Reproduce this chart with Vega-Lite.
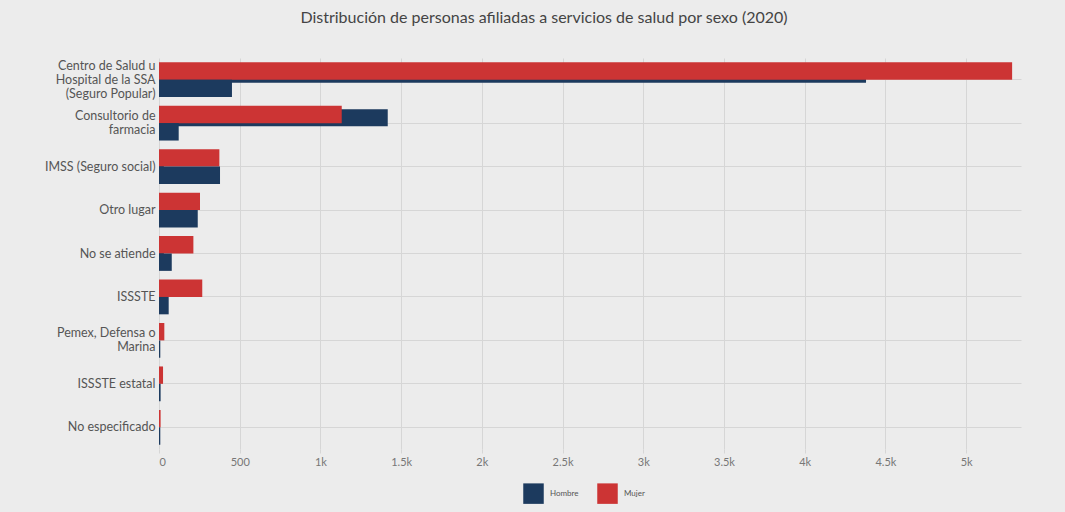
{
  "$schema": "https://vega.github.io/schema/vega-lite/v6.json",
  "autosize": "none",
  "width": 862,
  "height": 391,
  "padding": {"left": 159, "top": 58, "right": 44, "bottom": 63},
  "background": "#ececec",
  "title": {
    "text": "Distribución de personas afiliadas a servicios de salud por sexo (2020)",
    "font": "Lato",
    "fontSize": 16,
    "fontWeight": "normal",
    "color": "#444444",
    "anchor": "middle",
    "dx": -46,
    "offset": 32
  },
  "config": {
    "view": {"stroke": null},
    "font": "Lato"
  },
  "data": {
    "values": [
      {"categoria": "Centro de Salud u Hospital de la SSA (Seguro Popular)", "sexo": "Mujer", "registro": "principal", "valor": 5285},
      {"categoria": "Centro de Salud u Hospital de la SSA (Seguro Popular)", "sexo": "Hombre", "registro": "principal", "valor": 452},
      {"categoria": "Centro de Salud u Hospital de la SSA (Seguro Popular)", "sexo": "Hombre", "registro": "secundario", "valor": 4380},
      {"categoria": "Consultorio de farmacia", "sexo": "Mujer", "registro": "principal", "valor": 1132},
      {"categoria": "Consultorio de farmacia", "sexo": "Hombre", "registro": "principal", "valor": 122},
      {"categoria": "Consultorio de farmacia", "sexo": "Hombre", "registro": "secundario", "valor": 1417},
      {"categoria": "IMSS (Seguro social)", "sexo": "Mujer", "registro": "principal", "valor": 374},
      {"categoria": "IMSS (Seguro social)", "sexo": "Hombre", "registro": "principal", "valor": 378},
      {"categoria": "IMSS (Seguro social)", "sexo": "Hombre", "registro": "secundario", "valor": 30},
      {"categoria": "Otro lugar", "sexo": "Mujer", "registro": "principal", "valor": 254},
      {"categoria": "Otro lugar", "sexo": "Hombre", "registro": "principal", "valor": 240},
      {"categoria": "No se atiende", "sexo": "Mujer", "registro": "principal", "valor": 213},
      {"categoria": "No se atiende", "sexo": "Hombre", "registro": "principal", "valor": 79},
      {"categoria": "No se atiende", "sexo": "Hombre", "registro": "secundario", "valor": 30},
      {"categoria": "ISSSTE", "sexo": "Mujer", "registro": "principal", "valor": 268},
      {"categoria": "ISSSTE", "sexo": "Hombre", "registro": "principal", "valor": 60},
      {"categoria": "ISSSTE", "sexo": "Hombre", "registro": "secundario", "valor": 25},
      {"categoria": "Pemex, Defensa o Marina", "sexo": "Mujer", "registro": "principal", "valor": 33},
      {"categoria": "Pemex, Defensa o Marina", "sexo": "Hombre", "registro": "principal", "valor": 8},
      {"categoria": "ISSSTE estatal", "sexo": "Mujer", "registro": "principal", "valor": 25},
      {"categoria": "ISSSTE estatal", "sexo": "Hombre", "registro": "principal", "valor": 10},
      {"categoria": "No especificado", "sexo": "Mujer", "registro": "principal", "valor": 10},
      {"categoria": "No especificado", "sexo": "Hombre", "registro": "principal", "valor": 8}
    ]
  },
  "encoding": {
    "y": {
      "field": "categoria",
      "type": "nominal",
      "sort": ["Centro de Salud u Hospital de la SSA (Seguro Popular)", "Consultorio de farmacia", "IMSS (Seguro social)", "Otro lugar", "No se atiende", "ISSSTE", "Pemex, Defensa o Marina", "ISSSTE estatal", "No especificado"],
      "scale": {"paddingInner": 0, "paddingOuter": 0},
      "axis": {
        "title": null,
        "domain": false,
        "ticks": false,
        "grid": true,
        "bandPosition": 0.5,
        "gridColor": "#d6d6d6",
        "gridWidth": 1,
        "labelFont": "Lato",
        "labelFontSize": 12.5,
        "labelColor": "#555555",
        "labelPadding": 4,
        "labelLineHeight": 14,
        "labelLimit": 300,
        "labelOffset": {
          "condition": [
            {"test": "datum.value == 'Centro de Salud u Hospital de la SSA (Seguro Popular)'", "value": -14},
            {"test": "datum.value == 'Consultorio de farmacia' || datum.value == 'Pemex, Defensa o Marina'", "value": -7}
          ],
          "value": 0
        },
        "labelExpr": "datum.value == 'Centro de Salud u Hospital de la SSA (Seguro Popular)' ? ['Centro de Salud u', 'Hospital de la SSA', '(Seguro Popular)'] : datum.value == 'Consultorio de farmacia' ? ['Consultorio de', 'farmacia'] : datum.value == 'Pemex, Defensa o Marina' ? ['Pemex, Defensa o', 'Marina'] : datum.label"
      }
    },
    "x": {
      "field": "valor",
      "type": "quantitative",
      "scale": {"domain": [0, 5340], "nice": false},
      "axis": {
        "title": null,
        "domain": false,
        "ticks": true,
        "tickColor": "#d6d6d6",
        "tickSize": 4,
        "values": [0, 500, 1000, 1500, 2000, 2500, 3000, 3500, 4000, 4500, 5000],
        "labelExpr": "datum.value < 1000 ? format(datum.value, 'd') : format(datum.value / 1000, '~g') + 'k'",
        "gridColor": "#d6d6d6",
        "labelFont": "Lato",
        "labelFontSize": 11,
        "labelColor": "#777777",
        "labelPadding": 3
      }
    },
    "color": {
      "field": "sexo",
      "type": "nominal",
      "scale": {"domain": ["Hombre", "Mujer"], "range": ["#1c3a5e", "#cc3434"]},
      "legend": {
        "title": null,
        "orient": "none",
        "direction": "horizontal",
        "legendX": 364,
        "legendY": 425,
        "symbolType": "square",
        "symbolSize": 420,
        "symbolOpacity": 1,
        "symbolStrokeWidth": 0,
        "labelFontSize": 8,
        "labelColor": "#555555",
        "labelOffset": 6,
        "columnPadding": 18
      }
    }
  },
  "layer": [
    {
      "transform": [{"filter": "datum.registro == 'secundario'"}],
      "mark": {"type": "bar", "height": 17, "yOffset": -5.5}
    },
    {
      "transform": [{"filter": "datum.registro == 'principal'"}],
      "mark": {"type": "bar"},
      "encoding": {
        "yOffset": {
          "field": "sexo",
          "type": "nominal",
          "scale": {"domain": ["Mujer", "Hombre"], "paddingInner": 0, "paddingOuter": 0.25}
        }
      }
    }
  ]
}
